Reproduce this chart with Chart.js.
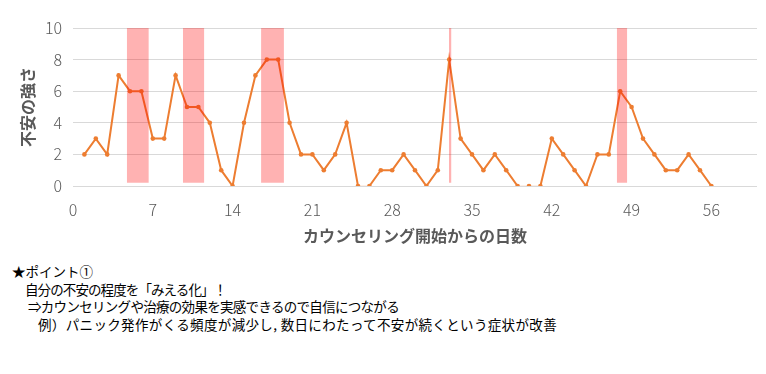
<!DOCTYPE html>
<html><head><meta charset="utf-8">
<script src="https://cdn.jsdelivr.net/npm/chart.js@4"></script>
<style>
body{margin:0;background:#fff;width:766px;height:374px;overflow:hidden;font-family:"Noto Sans CJK JP",sans-serif;}
#wrap{position:absolute;left:0;top:0;width:766px;height:260px;}
#note{position:absolute;left:12px;top:263px;font-size:13.5px;line-height:17.5px;color:#000;white-space:nowrap;}
#note div{height:17.5px;}
</style></head><body>
<div id="wrap"><canvas id="c"></canvas></div>
<div id="note">
<div>★ポイント①</div>
<div style="padding-left:13px;letter-spacing:-0.9px">自分の不安の程度を「みえる化」！</div>
<div style="padding-left:16px;letter-spacing:-0.7px">⇒カウンセリングや治療の効果を実感できるので自信につながる</div>
<div style="padding-left:26px;letter-spacing:0.35px">例）パニック発作がくる頻度が減少し, 数日にわたって不安が続くという症状が改善</div>
</div>
<script>
const days = [1,2,3,4,5,6,7,8,9,10,11,12,13,14,15,16,17,18,19,20,21,22,23,24,25,26,27,28,29,30,31,32,33,34,35,36,37,38,39,40,41,42,43,44,45,46,47,48,49,50,51,52,53,54,55,56];
const anxiety = [2,3,2,7,6,6,3,3,7,5,5,4,1,0,4,7,8,8,4,2,2,1,2,4,0,0,1,1,2,1,0,1,8,3,2,1,2,1,0,0,0,3,2,1,0,2,2,6,5,3,2,1,1,2,1,0];
const bandStart = [4.72, 9.64, 16.5, 32.98, 47.7];
const bandEnd   = [6.65, 11.52, 18.5, 33.2, 48.62];
const bandLow = 0.2, bandHigh = 10;
const xTicks = [0,7,14,21,28,35,42,49,56];
const yTicks = [0,2,4,6,8,10];

const orange = '#ED7D31';
const datasets = [{
  type:'line',
  data: days.map((d,i)=>({x:d,y:anxiety[i]})),
  borderColor: orange, backgroundColor: orange,
  borderWidth: 2, pointRadius: 2.3, pointHoverRadius: 2.3,
  pointBorderWidth: 0, tension: 0, order: 1,
  segment: { borderColor: ctx => (ctx.p0.parsed.y === 0 && ctx.p1.parsed.y === 0) ? 'rgba(237,125,49,0.12)' : orange }
}];
bandStart.forEach((s,i)=>{
  datasets.push({
    type:'line',
    data:[{x:s,y:bandHigh},{x:bandEnd[i],y:bandHigh}],
    borderWidth:0, pointRadius:0, borderColor:'rgba(0,0,0,0)',
    backgroundColor:'rgba(255,0,0,0.3)',
    fill:{value:bandLow}, order:0
  });
});

const tickFont = {family:'"Noto Sans CJK JP"', size:16, weight:300};
new Chart(document.getElementById('c'), {
  type:'line',
  data:{datasets},
  options:{
    responsive:true, maintainAspectRatio:false, animation:false,
    layout:{padding:{top:28,right:9,bottom:14,left:18}},
    plugins:{legend:{display:false}, tooltip:{enabled:false}},
    scales:{
      x:{type:'linear', min:0, max:60,
        afterBuildTicks: s => { s.ticks = xTicks.map(v=>({value:v})); },
        afterFit: s => { s.height = 60; },
        grid:{display:false},
        border:{display:false},
        ticks:{color:'#595959', font:tickFont, padding:6, maxRotation:0, autoSkip:false},
        title:{display:true, text:'カウンセリング開始からの日数', color:'#595959',
          font:{family:'"Noto Sans CJK JP"', size:16, weight:'bold'}, padding:{top:0,bottom:0}}
      },
      y:{min:0, max:10,
        afterBuildTicks: s => { s.ticks = yTicks.map(v=>({value:v})); },
        afterFit: s => { s.width = 55; },
        grid:{color:'#D9D9D9', lineWidth:1, drawTicks:false},
        border:{display:false},
        ticks:{color:'#595959', font:tickFont, padding:11},
        title:{display:true, text:'不安の強さ', color:'#595959',
          font:{family:'"Noto Sans CJK JP"', size:16, weight:'bold'}, padding:{top:0,bottom:0}}
      }
    }
  }
});
</script>
</body></html>
